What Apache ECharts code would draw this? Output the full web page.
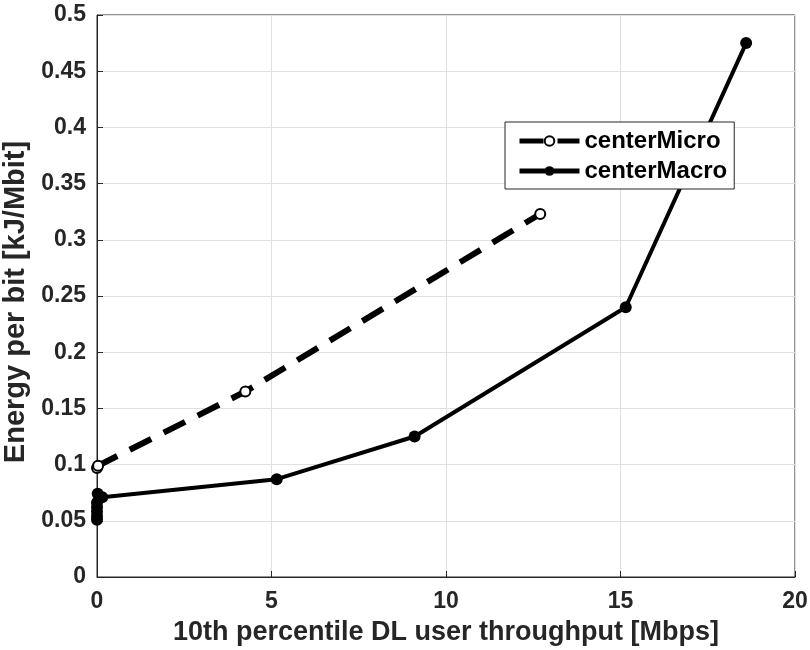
<!DOCTYPE html>
<html><head><meta charset="utf-8">
<script src="https://cdn.jsdelivr.net/npm/echarts@6/dist/echarts.min.js"></script>
<style>html,body{margin:0;padding:0;background:#fff}#c{width:810px;height:650px}</style>
</head><body><div id="c"></div>
<script>
const seriesNames = ['centerMicro', 'centerMacro'];
const microX = [0.0, 0.03, 4.25, 12.7];
const microY = [0.097, 0.099, 0.165, 0.323];
const macroX = [0.0, 0.0, 0.0, 0.0, 0.0, 0.02, 0.15, 5.15, 9.1, 15.15, 18.6];
const macroY = [0.051, 0.054, 0.058, 0.062, 0.066, 0.074, 0.071, 0.087, 0.125, 0.240, 0.475];
const xTicks = [0, 5, 10, 15, 20];
const yTicks = [0, 0.05, 0.1, 0.15, 0.2, 0.25, 0.3, 0.35, 0.4, 0.45, 0.5];
const xTitle = '10th percentile DL user throughput [Mbps]';
const yTitle = 'Energy per bit [kJ/Mbit]';

const font = '"Liberation Sans", Arial, sans-serif';
const chart = echarts.init(document.getElementById('c'), null, {renderer: 'canvas'});
const pairs = (xs, ys) => xs.map((x, i) => [x, ys[i]]);
chart.setOption({
  animation: false,
  backgroundColor: '#fff',
  grid: {left: 97, right: 15, top: 15, bottom: 73, show: true, borderColor: '#262626', borderWidth: 1,
    containLabel: false, outerBoundsMode: 'none'},
  legend: {
    left: 505, top: 122, orient: 'vertical',
    itemWidth: 60, itemHeight: 12, itemGap: 6,
    padding: [7, 7, 6, 12],
    borderColor: '#262626', borderWidth: 1, backgroundColor: '#fff', borderRadius: 0,
    lineStyle: {width: 5, type: 'inherit'},
    textStyle: {fontFamily: font, fontWeight: 'bold', fontSize: 24, color: '#000'},
    data: seriesNames
  },
  xAxis: {
    type: 'value', min: 0, max: 20, interval: 5,
    name: xTitle, nameLocation: 'middle', nameGap: 42,
    nameTextStyle: {fontFamily: font, fontWeight: 'bold', fontSize: 27, color: '#262626'},
    axisLine: {show: true, lineStyle: {color: '#262626'}},
    axisTick: {show: true, inside: true, length: 6, lineStyle: {color: '#262626'}},
    axisLabel: {fontFamily: font, fontWeight: 'bold', fontSize: 23, color: '#262626', margin: 13,
      formatter: v => xTicks.includes(v) ? String(v) : ''},
    splitLine: {show: true, lineStyle: {color: '#e0e0e0', width: 1}}
  },
  yAxis: {
    type: 'value', min: 0, max: 0.5, interval: 0.05,
    name: yTitle, nameLocation: 'middle', nameGap: 62,
    nameTextStyle: {fontFamily: font, fontWeight: 'bold', fontSize: 29, color: '#262626', padding: [0, 12, 0, 0]},
    axisLine: {show: true, lineStyle: {color: '#262626'}},
    axisTick: {show: true, inside: true, length: 6, lineStyle: {color: '#262626'}},
    axisLabel: {fontFamily: font, fontWeight: 'bold', fontSize: 23, color: '#262626', margin: 11,
      formatter: v => { const t = yTicks.find(k => Math.abs(k - v) < 1e-9); return t === undefined ? '' : String(t); }},
    splitLine: {show: true, lineStyle: {color: '#e0e0e0', width: 1}}
  },
  series: [
    {
      name: seriesNames[0], type: 'line', data: pairs(microX, microY),
      symbol: 'emptyCircle', symbolSize: 10,
      itemStyle: {color: '#000', borderColor: '#000', borderWidth: 5},
      lineStyle: {color: '#000', width: 6, type: [24, 14]},
      z: 3
    },
    {
      name: seriesNames[1], type: 'line', data: pairs(macroX, macroY),
      symbol: 'circle', symbolSize: 12,
      itemStyle: {color: '#000'},
      lineStyle: {color: '#000', width: 4},
      z: 2
    }
  ]
});
</script></body></html>
